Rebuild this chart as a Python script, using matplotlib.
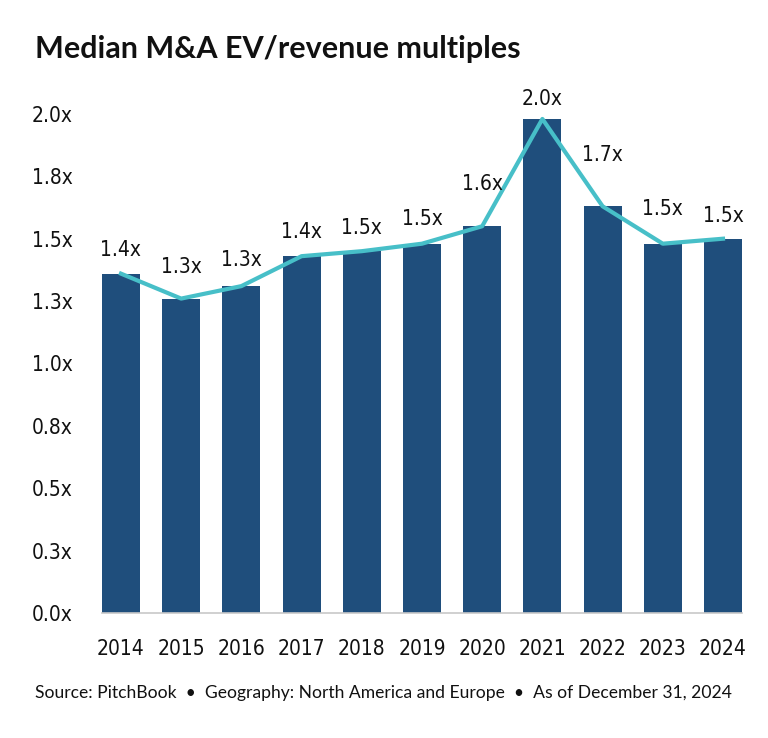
import matplotlib
matplotlib.use("Agg")
import matplotlib.pyplot as plt
from matplotlib.ticker import FuncFormatter

years = ["2014", "2015", "2016", "2017", "2018", "2019", "2020", "2021", "2022", "2023", "2024"]
multiples = [1.36, 1.26, 1.31, 1.43, 1.45, 1.48, 1.55, 1.98, 1.63, 1.48, 1.50]
value_labels = ["1.4x", "1.3x", "1.3x", "1.4x", "1.5x", "1.5x", "1.6x", "2.0x", "1.7x", "1.5x", "1.5x"]
y_ticks = [0.0, 0.25, 0.5, 0.75, 1.0, 1.25, 1.5, 1.75, 2.0]

# how far (px) each value label sits above its point, so it clears the line
label_lift = [24, 32, 26, 24, 23, 25, 42, 20, 51, 35, 23]

BAR = "#1F4E7C"
LINE = "#47BFC8"
TXT = "#111111"

fig = plt.figure(figsize=(7.68, 7.38), dpi=100)
ax = fig.add_axes([0.1328, 0.1694, 0.8333, 0.6762])

x = list(range(len(years)))
ax.bar(x, multiples, width=0.63, color=BAR, zorder=2)
ax.plot(x, multiples, color=LINE, linewidth=3, zorder=3)

for xi, yi, lab, lift in zip(x, multiples, value_labels, label_lift):
    ax.annotate(lab, (xi, yi), xytext=(0, lift), textcoords="offset pixels",
                ha="center", va="center", fontsize=15, family="DejaVu Sans",
                stretch="condensed", color=TXT, annotation_clip=False)

ax.set_xlim(-0.315, len(years) - 1 + 0.315)
ax.set_ylim(0, 2.0)
ax.set_xticks(x)
ax.set_xticklabels(years)
ax.set_yticks(y_ticks)
ax.yaxis.set_major_formatter(FuncFormatter(lambda v, p: "%.1fx" % (int(v * 10 + 0.5) / 10)))

for lab in ax.get_xticklabels() + ax.get_yticklabels():
    lab.set_family("DejaVu Sans")
    lab.set_stretch("condensed")
    lab.set_fontsize(15)
    lab.set_color(TXT)

ax.tick_params(axis="both", length=0)
ax.tick_params(axis="x", pad=19)
ax.tick_params(axis="y", pad=21)
for side in ["top", "right", "left"]:
    ax.spines[side].set_visible(False)
ax.spines["bottom"].set_color("#c8c8c8")
ax.spines["bottom"].set_linewidth(1.2)
ax.spines["bottom"].set_zorder(4)

fig.text(35 / 768, 1 - 49 / 738, "Median M&A EV/revenue multiples", fontsize=22,
         fontweight="bold", family=["Lato", "DejaVu Sans"], va="center", ha="left", color=TXT)
fig.text(35 / 768, 1 - 693 / 738,
         "Source: PitchBook  \u2022  Geography: North America and Europe  \u2022  As of December 31, 2024",
         fontsize=12.6, family=["Lato", "DejaVu Sans"], va="center", ha="left", color=TXT)

fig.savefig("out.png", dpi=100, facecolor="white")
